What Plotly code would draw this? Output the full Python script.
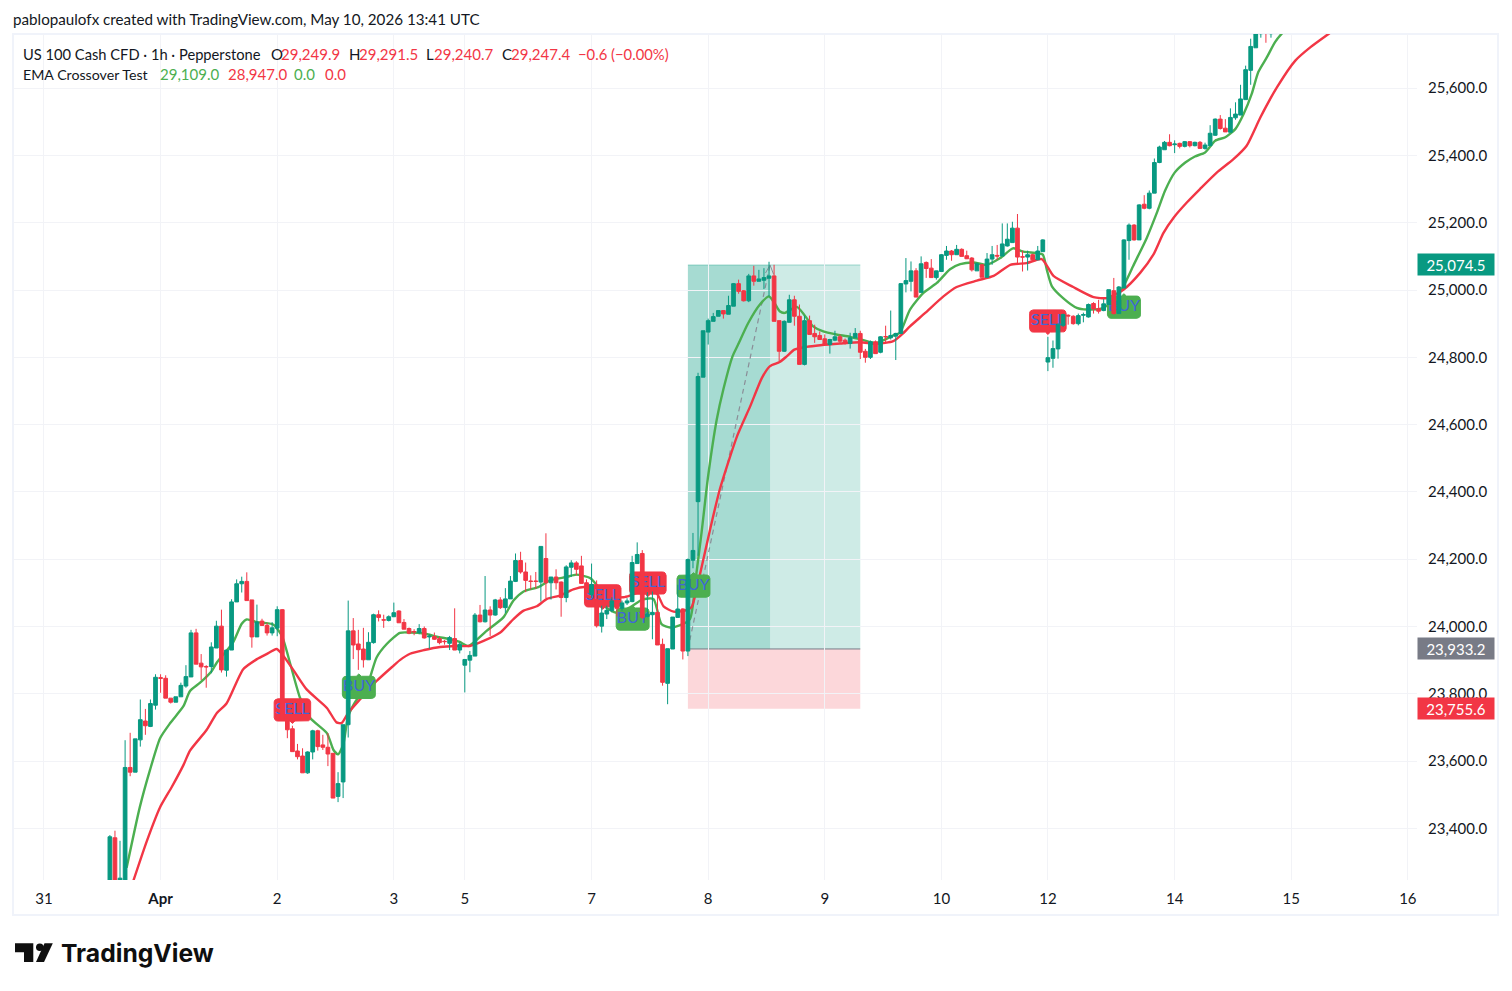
import numpy as np
import plotly.graph_objects as go

# 1h bars, the index counts bars from the "31" tick
first_bar = 13

opens = [
    23230, 23372, 23241, 23241, 23581, 23567, 23663, 23719, 23703, 23766,
    23848, 23846, 23787, 23775, 23791, 23823, 23850, 23981, 23891, 23881,
    23881, 23936, 24001, 23870, 23930, 24073, 24127, 24134, 24079, 23969,
    24016, 24003, 23981, 23995, 24050, 23725, 23696, 23630, 23615, 23565,
    23627, 23690, 23648, 23641, 23623, 23495, 23538, 23708, 23987, 23948,
    23933, 23901, 23952, 24035, 24020, 24018, 24029, 24046,
    24012, 23994, 23985, 23982, 23994, 23969, 23970, 23964, 23956, 23950,
    23964, 23930, 23885, 23900, 23912, 24034, 24014, 24049, 24034, 24079,
    24056, 24082, 24134, 24196, 24162, 24135, 24135, 24132, 24202, 24130,
    24147, 24132, 24086, 24176, 24189, 24180, 24130, 24095, 24080, 24001,
    24037, 24047, 24076, 24054, 24070, 24074, 24187, 24217, 24030, 24035,
    24042, 23947, 23831, 23933, 24027, 24052, 23927, 24197,
    24371, 24741, 24875, 24907, 24922, 24939, 24928, 24952, 25019, 24998,
    24968, 25042, 25026, 25029, 25035, 25042, 24909, 24818, 24904, 24971,
    24922, 24779, 24909, 24871, 24865, 24855, 24838, 24851, 24861, 24851,
    24841, 24858, 24871, 24818, 24800, 24846, 24815,
    24862, 24858, 24863, 24871, 25018, 25026, 25057, 24993, 25082, 25065,
    25037, 25055, 25103, 25116, 25105, 25121, 25102, 25095, 25057, 25075,
    25038, 25092, 25103, 25101, 25131, 25141, 25184, 25099, 25098, 25105,
    25090, 25114,
    24786, 24797, 24825, 24895, 24925, 24922, 24900, 24925, 24920, 24960,
    24945, 24939, 24957, 24998, 24930, 25006, 25147, 25193, 25149, 25255,
    25243, 25288, 25379, 25417, 25439, 25432, 25436, 25427, 25441, 25429,
    25439, 25421, 25429, 25460, 25508, 25481, 25469, 25512, 25520, 25566,
    25653, 25720, 25762, 25770, 25762,
]
highs = [
    23380, 23393, 23363, 23662, 23684, 23666, 23783, 23755, 23783, 23858,
    23858, 23855, 23787, 23791, 23833, 23885, 23990, 23993, 23918, 23885,
    23953, 24017, 24050, 23930, 24081, 24140, 24148, 24161, 24079, 24065,
    24023, 24011, 24013, 24060, 24052, 23733, 23705, 23651, 23638, 23629,
    23693, 23693, 23678, 23683, 23623, 23567, 23708, 24077, 24025, 23990,
    23996, 23983, 24038, 24048, 24035, 24033, 24071, 24048,
    24022, 23997, 23992, 24007, 24000, 23977, 23982, 23970, 23960, 23972,
    24054, 23954, 23902, 23927, 24040, 24064, 24150, 24060, 24082, 24087,
    24114, 24150, 24217, 24222, 24190, 24152, 24162, 24238, 24277, 24147,
    24170, 24134, 24182, 24197, 24194, 24210, 24140, 24187, 24137, 24062,
    24062, 24087, 24082, 24077, 24084, 24210, 24250, 24227, 24102, 24104,
    24097, 23964, 23934, 24028, 24124, 24054, 24202, 24278,
    24754, 24879, 24915, 24932, 24939, 24939, 24983, 25021, 25031, 25000,
    25048, 25072, 25060, 25065, 25084, 25075, 24909, 24910, 24986, 24983,
    24957, 24924, 24924, 24897, 24877, 24868, 24855, 24879, 24868, 24856,
    24873, 24887, 24879, 24825, 24850, 24850, 24863,
    24894, 24939, 24873, 25021, 25095, 25085, 25065, 25100, 25085, 25092,
    25045, 25107, 25131, 25119, 25134, 25124, 25117, 25098, 25082, 25078,
    25110, 25131, 25134, 25198, 25198, 25203, 25226, 25117, 25117, 25108,
    25131, 25151,
    24861, 24850, 24902, 24930, 24928, 24925, 24930, 24933, 24960, 24964,
    24971, 24973, 25001, 25036, 25012, 25151, 25198, 25196, 25255, 25282,
    25296, 25391, 25429, 25443, 25463, 25445, 25438, 25443, 25443, 25441,
    25443, 25438, 25490, 25510, 25520, 25508, 25540, 25558, 25610, 25667,
    25747, 25790, 25790, 25800, 25790,
]
lows = [
    23220, 23220, 23225, 23225, 23555, 23567, 23643, 23678, 23701, 23753,
    23803, 23787, 23771, 23775, 23791, 23818, 23850, 23888, 23841, 23818,
    23861, 23936, 23863, 23851, 23930, 24073, 24101, 24077, 23937, 23969,
    24003, 23973, 23973, 23971, 23725, 23668, 23628, 23605, 23565, 23562,
    23605, 23631, 23633, 23585, 23490, 23478, 23490, 23670, 23903, 23871,
    23878, 23901, 23949, 24015, 23996, 24015, 24028, 24011,
    23992, 23977, 23974, 23977, 23964, 23934, 23960, 23947, 23946, 23930,
    23930, 23920, 23804, 23864, 23912, 24012, 24012, 23972, 24032, 24052,
    24040, 24082, 24132, 24157, 24102, 24110, 24112, 24074, 24084, 24080,
    24110, 24029, 24072, 24147, 24152, 24128, 24090, 24085, 23997, 23982,
    24022, 24042, 24030, 24047, 24064, 24072, 24187, 24022, 24027, 23962,
    23945, 23824, 23769, 23933, 24027, 23902, 23912, 24173,
    24210, 24741, 24838, 24907, 24922, 24915, 24928, 24952, 24989, 24966,
    24964, 25013, 25026, 25003, 24981, 24907, 24789, 24816, 24904, 24894,
    24779, 24776, 24868, 24843, 24853, 24838, 24811, 24848, 24843, 24838,
    24826, 24858, 24795, 24784, 24795, 24811, 24812,
    24843, 24853, 24792, 24870, 24993, 24996, 24979, 24993, 25036, 25037,
    25031, 25055, 25090, 25087, 25105, 25100, 25092, 25055, 25057, 25038,
    25036, 25075, 25090, 25101, 25129, 25141, 25080, 25055, 25058, 25088,
    25088, 25114,
    24759, 24769, 24796, 24890, 24897, 24897, 24895, 24904, 24918, 24930,
    24930, 24937, 24957, 24927, 24936, 25006, 25090, 25147, 25149, 25240,
    25240, 25288, 25377, 25417, 25427, 25407, 25421, 25424, 25424, 25427,
    25421, 25417, 25429, 25458, 25477, 25470, 25469, 25506, 25520, 25566,
    25610, 25720, 25750, 25735, 25750,
]
closes = [
    23375, 23240, 23252, 23581, 23567, 23666, 23723, 23705, 23771, 23849,
    23846, 23787, 23775, 23791, 23825, 23851, 23981, 23888, 23880, 23880,
    23939, 24001, 23871, 23930, 24073, 24127, 24134, 24077, 23969, 24013,
    24003, 23981, 23996, 24050, 23725, 23693, 23628, 23613, 23565, 23627,
    23690, 23643, 23641, 23621, 23490, 23533, 23708, 23987, 23945, 23931,
    23901, 23953, 24035, 24027, 24019, 24029, 24041, 24011,
    23992, 23980, 23984, 23994, 23966, 23971, 23962, 23952, 23955, 23967,
    23930, 23947, 23902, 23914, 24034, 24014, 24049, 24034, 24079, 24056,
    24082, 24135, 24196, 24162, 24137, 24134, 24134, 24238, 24130, 24147,
    24130, 24086, 24177, 24189, 24170, 24128, 24100, 24125, 24002, 24040,
    24048, 24076, 24054, 24070, 24076, 24190, 24214, 24027, 24037, 24042,
    23945, 23834, 23934, 24028, 24052, 23927, 24199, 24226,
    24743, 24879, 24909, 24921, 24939, 24929, 24954, 25019, 24996, 24968,
    25042, 25026, 25033, 25037, 25042, 24907, 24818, 24907, 24971, 24922,
    24779, 24909, 24868, 24861, 24853, 24838, 24853, 24861, 24848, 24841,
    24858, 24871, 24815, 24800, 24846, 24811, 24861,
    24861, 24865, 24871, 25019, 25028, 25057, 24979, 25078, 25064, 25037,
    25057, 25105, 25116, 25105, 25121, 25100, 25093, 25060, 25078, 25038,
    25092, 25105, 25101, 25137, 25151, 25184, 25098, 25098, 25105, 25090,
    25116, 25149,
    24799, 24826, 24897, 24927, 24923, 24900, 24924, 24927, 24957, 24944,
    24937, 24959, 25001, 24930, 25009, 25149, 25193, 25149, 25253, 25243,
    25288, 25379, 25425, 25439, 25429, 25434, 25427, 25441, 25429, 25439,
    25421, 25431, 25466, 25508, 25480, 25470, 25513, 25523, 25568, 25655,
    25724, 25762, 25765, 25765, 25770,
]

fast_bars = [16.3, 18.9, 20.9, 22.9, 24.9, 27.5, 28.8, 30.8, 33.1, 34.1, 37.3, 39, 40, 42, 45.2,
             46.9, 48.5, 50.5, 52.5, 55.8, 57.1, 58, 59, 60, 61.7, 63.6, 65.6, 67.6, 70.2, 72.2,
             75, 77.5, 80.1, 82, 83.7, 87.3, 90.6, 92.6, 94.6, 97.5, 99.8, 103, 105, 107.7, 109.3,
             110.3, 113, 115.6, 118, 120.2, 121.8, 123.5, 125.5, 127.4, 128.7, 129.7, 131, 132.7,
             134, 135.8, 136.9, 138.9, 141.2, 143, 144.1, 145.1, 146.1, 148.5, 151.7, 153.7, 156.3,
             159, 161.6, 164.2, 167.5, 168.8, 170.8, 173.4, 176.1, 178.7, 180.7, 183.3, 185.9,
             188.6, 191.1, 193.2, 195.8, 197, 197.8, 198.8, 201, 203.7, 205.7, 208.5, 210.9, 212.9,
             214.8, 217.5, 219.5, 221.1, 223, 225.1, 227, 229, 231, 233, 235, 236.6, 238.2, 239.5,
             241.2, 242.8, 244.3, 246]
fast_vals = [23283, 23463, 23573, 23668, 23713, 23763, 23808, 23833, 23868, 23893, 23953, 24008, 24021, 24013, 24006,
             23973, 23893, 23788, 23728, 23683, 23633, 23620, 23648, 23733, 23783, 23818, 23908, 23948, 23981, 23982,
             23979, 23970, 23962, 23954, 23942, 23987, 24027, 24077, 24104, 24117, 24137, 24147, 24154, 24144, 24117,
             24064, 24040, 24057, 24080, 24082, 24007, 23997, 24004, 24022, 24161, 24280, 24448, 24616,
             24705, 24803, 24838, 24902, 24957, 24981, 24961, 24937, 24932, 24950, 24892, 24877, 24868,
             24861, 24851, 24843, 24865, 24873, 24942, 24991, 25021, 25062, 25077, 25082, 25075,
             25095, 25124, 25114, 25110, 25105, 25060, 25011, 24976, 24947, 24942, 24945, 24966, 25011,
             25071, 25155, 25230, 25295, 25349, 25379, 25397, 25409, 25444, 25454, 25479, 25523, 25583, 25648,
             25692, 25737, 25765, 25790]
slow_bars = [17.6, 20.3, 22.9, 25.2, 27.5, 28.8, 32.1, 34.1, 36, 39.3, 42, 43.9, 45.9, 47.2, 49.3,
             51.8, 55.8, 57.7, 58.7, 60, 62.3, 65.6, 68.9, 70.2, 72.2, 75, 78.1, 81.4, 84, 86.7, 90,
             92.6, 94.6, 97.2, 99.2, 101.8, 104.4, 106.7, 110.3, 114.3, 115.6, 118, 120.9, 122.2,
             124.2, 126.4, 127.7, 129.4, 131.4, 133.3, 136.7, 139.3, 141.6, 143.2, 145.1, 146.5, 148,
             150.4, 153.1, 157, 161, 164.2, 167.5, 169.2, 170.8, 173.8, 177.4, 180, 184, 187.3,
             190.6, 193.8, 196.8, 199.1, 203, 207, 209.6, 212.9, 216.2, 218.8, 220.8, 222.8, 225.4,
             228, 231.3, 234.6, 237.2, 239.9, 243.2, 246.8, 249.8, 253.7, 256]
slow_vals = [23243, 23363, 23463, 23523, 23588, 23631, 23693, 23743, 23771, 23873, 23903, 23918, 23933, 23913, 23868,
             23813, 23758, 23715, 23713, 23743, 23783, 23838, 23883, 23900, 23919, 23930, 23939, 23942, 23942, 23957, 23982,
             24022, 24047, 24060, 24082, 24092, 24110, 24117, 24090, 24087, 24092, 24105, 24097, 24060,
             24044, 24047, 24057, 24156, 24290, 24408, 24566, 24655, 24739, 24774, 24786, 24803, 24823,
             24831, 24836, 24841, 24845, 24840, 24848, 24868, 24892, 24932, 24981, 25009, 25028, 25042,
             25075, 25080, 25092, 25042, 25009, 24979, 24976, 25001, 25051, 25105, 25170, 25215, 25260,
             25300, 25349, 25389, 25429, 25513, 25603, 25682, 25722, 25765, 25790]

# strategy signals
signal_texts = ["SELL", "BUY", "SELL", "BUY", "SELL", "BUY", "SELL", "BUY"]
signal_bars = [49, 62.1, 110.2, 116.1, 119.1, 128.1, 198, 213]
signal_prices = [23752, 23819, 24091, 24022, 24129, 24120, 24908, 24949]

# long position tool
pos_start, pos_exit, pos_end = 127, 143.2, 161
pos_target, pos_entry, pos_stop = 25074.5, 23933.2, 23755.6

tick_bars = [0, 23, 46, 69, 83, 108, 131, 154, 177, 198, 223, 246, 269]
tick_days = ["31", "<b>Apr</b>", "2", "3", "5", "7", "8", "9", "10", "12", "14", "15", "16"]
price_ticks = list(range(23400, 25601, 200))

UP = "#089981"
DOWN = "#F23645"
GREEN = "#4CAF50"
GRID = "#F2F3F7"
INK = "#131722"
FONT = "Lato, Open Sans, sans-serif"
W, H = 1512, 991

X_RANGE = [-6.11, 270.8]
Y_RANGE = [23246.5, 25761]


def px(x):
    return x / W


def py(y):
    return 1 - y / H


def badge(bar, price, up):
    # rounded label with a small pointer, up = pointer on top
    hw = 3.25 if up else 3.6
    hh, rx, ry = 33, 0.7, 10
    a = np.linspace(0, np.pi / 2, 5)
    xs, ys = [], []
    for cx, cy, start in [(hw - rx, hh - ry, 0), (-hw + rx, hh - ry, np.pi / 2),
                          (-hw + rx, -hh + ry, np.pi), (hw - rx, -hh + ry, 3 * np.pi / 2)]:
        xs += list(bar + cx + rx * np.cos(a + start))
        ys += list(price + cy + ry * np.sin(a + start))
        if start == 0 and up:
            xs += [bar + 0.5, bar, bar - 0.5]
            ys += [price + hh, price + hh + 7, price + hh]
        if start == np.pi and not up:
            xs += [bar - 0.5, bar, bar + 0.5]
            ys += [price - hh, price - hh - 7, price - hh]
    return xs + xs[:1], ys + ys[:1]


fig = go.Figure()

# dashed path of the position tool, with its small arrow head
fig.add_trace(go.Scatter(x=[pos_start, pos_exit], y=[pos_entry, pos_target], mode="lines",
                         line=dict(color="#8A8D97", width=1.2, dash="5px,4px"), hoverinfo="skip"))
fig.add_trace(go.Scatter(x=[pos_exit - 0.9, pos_exit, pos_exit + 0.7], y=[pos_target - 24, pos_target, pos_target - 28],
                         mode="lines", line=dict(color="#8A8D97", width=1), hoverinfo="skip"))

fig.add_trace(go.Scatter(x=fast_bars, y=fast_vals, mode="lines", hoverinfo="skip",
                         line=dict(color=GREEN, width=2.4, shape="spline", smoothing=0.6)))
fig.add_trace(go.Scatter(x=slow_bars, y=slow_vals, mode="lines", hoverinfo="skip",
                         line=dict(color=DOWN, width=2.4, shape="spline", smoothing=0.6)))

for txt, b, p in zip(signal_texts, signal_bars, signal_prices):
    up = txt == "BUY"
    xs, ys = badge(b, p, up)
    fig.add_trace(go.Scatter(x=xs, y=ys, mode="lines", fill="toself", hoverinfo="skip",
                             fillcolor=GREEN if up else DOWN,
                             line=dict(color=GREEN if up else DOWN, width=1)))
fig.add_trace(go.Scatter(x=signal_bars, y=signal_prices, mode="text", text=signal_texts,
                         textposition="middle center", hoverinfo="skip",
                         textfont=dict(color="#3F66D9", size=16, family=FONT)))

# candles go on an overlay subplot so they sit above the lines and labels
fig.add_trace(go.Candlestick(
    x=list(range(first_bar, first_bar + len(opens))),
    open=opens, high=highs, low=lows, close=closes,
    xaxis="x2", yaxis="y2", hoverinfo="skip", whiskerwidth=0,
    increasing=dict(line=dict(color=UP, width=1), fillcolor=UP),
    decreasing=dict(line=dict(color=DOWN, width=1), fillcolor=DOWN),
))

shapes = [
    dict(type="rect", x0=pos_start, x1=pos_end, y0=pos_entry, y1=pos_target, layer="below",
         fillcolor="rgba(8,153,129,0.2)", line_width=0),
    dict(type="rect", x0=pos_start, x1=pos_exit, y0=pos_entry, y1=pos_target, layer="below",
         fillcolor="rgba(8,153,129,0.2)", line_width=0),
    dict(type="rect", x0=pos_start, x1=pos_end, y0=pos_stop, y1=pos_entry, layer="below",
         fillcolor="rgba(242,54,69,0.2)", line_width=0),
    dict(type="line", x0=pos_start, x1=pos_end, y0=pos_entry, y1=pos_entry, layer="below",
         line=dict(color="#787B86", width=1)),
    dict(type="line", x0=pos_start, x1=pos_end, y0=pos_target, y1=pos_target, layer="below",
         line=dict(color="rgba(8,153,129,0.35)", width=1)),
    # outer frame
    dict(type="rect", xref="paper", yref="paper", x0=px(13), x1=px(1498), y0=py(915), y1=py(34),
         line=dict(color="#F0F3FA", width=2), layer="below"),
    # logo
    dict(type="path", xref="paper", yref="paper", fillcolor="#0F0F0F", line_width=0,
         path=f"M{px(15)},{py(943.3)} L{px(33.3)},{py(943.3)} L{px(33.3)},{py(962)} L{px(24)},{py(962)} "
              f"L{px(24)},{py(952.3)} L{px(15)},{py(952.3)} Z"),
    dict(type="circle", xref="paper", yref="paper", fillcolor="#0F0F0F", line_width=0,
         x0=px(36), x1=px(43.6), y0=py(951), y1=py(943.4)),
    dict(type="path", xref="paper", yref="paper", fillcolor="#0F0F0F", line_width=0,
         path=f"M{px(44.5)},{py(943.3)} L{px(52.8)},{py(943.3)} L{px(44)},{py(962)} L{px(36)},{py(962)} Z"),
]


def note(x, y, text, color=INK, size=15, family=FONT):
    # annotations carry about 2px of padding
    return dict(xref="paper", yref="paper", x=px(x - 2), y=py(y), text=text, showarrow=False,
                xanchor="left", yanchor="middle", font=dict(color=color, size=size, family=family))


notes = [
    note(13, 19, "pablopaulofx created with TradingView.com, May 10, 2026 13:41 UTC", size=15.2),
    note(23, 54, "US 100 Cash CFD · 1h · Pepperstone", size=14.7),
    note(271, 54, "O"), note(281, 54, "29,249.9", DOWN),
    note(349, 54, "H"), note(359, 54, "29,291.5", DOWN),
    note(426, 54, "L"), note(434, 54, "29,240.7", DOWN),
    note(502, 54, "C"), note(511, 54, "29,247.4", DOWN),
    note(578, 54, "−0.6 (−0.00%)", DOWN, 14.8),
    note(23, 74, "EMA Crossover Test", size=14.2),
    note(160, 74, "29,109.0", GREEN), note(228, 74, "28,947.0", DOWN),
    note(294, 74, "0.0", GREEN), note(325, 74, "0.0", DOWN),
    note(61, 953, "<b>TradingView</b>", "#0F0F0F", 24.7, "Inter"),
]
# price tags on the right axis
for value, color in [(pos_target, UP), (pos_entry, "#787B86"), (pos_stop, DOWN)]:
    notes.append(dict(xref="paper", yref="y", x=px(1456), y=value, text=f"{value:,.1f}", showarrow=False,
                      width=74, height=19, bgcolor=color, xanchor="center", yanchor="middle",
                      font=dict(color="white", size=15, family=FONT)))

fig.update_layout(
    width=W, height=H, margin=dict(l=0, r=0, t=0, b=0),
    paper_bgcolor="white", plot_bgcolor="white", showlegend=False,
    shapes=shapes, annotations=notes,
    font=dict(family=FONT, size=15, color=INK),
    boxgap=0.27, boxgroupgap=0,
    xaxis=dict(domain=[px(13), px(1417)], range=X_RANGE, tickmode="array", tickvals=tick_bars,
               ticktext=tick_days, showgrid=True, gridcolor=GRID, zeroline=False, showline=False,
               ticks="outside", ticklen=5, tickcolor="white", tickfont=dict(size=15)),
    yaxis=dict(domain=[py(880), py(34)], range=Y_RANGE, side="right", tickmode="array",
               tickvals=price_ticks, tickformat=",.1f", showgrid=True, gridcolor=GRID, zeroline=False,
               showline=False, ticks="outside", ticklen=7, tickcolor="white", tickfont=dict(size=15)),
    xaxis2=dict(overlaying="x", range=X_RANGE, visible=False, rangeslider=dict(visible=False)),
    yaxis2=dict(overlaying="y", range=Y_RANGE, side="right", visible=False),
)

fig.write_html("out.html", config={"displayModeBar": False}, post_script="document.body.style.margin='0';")
